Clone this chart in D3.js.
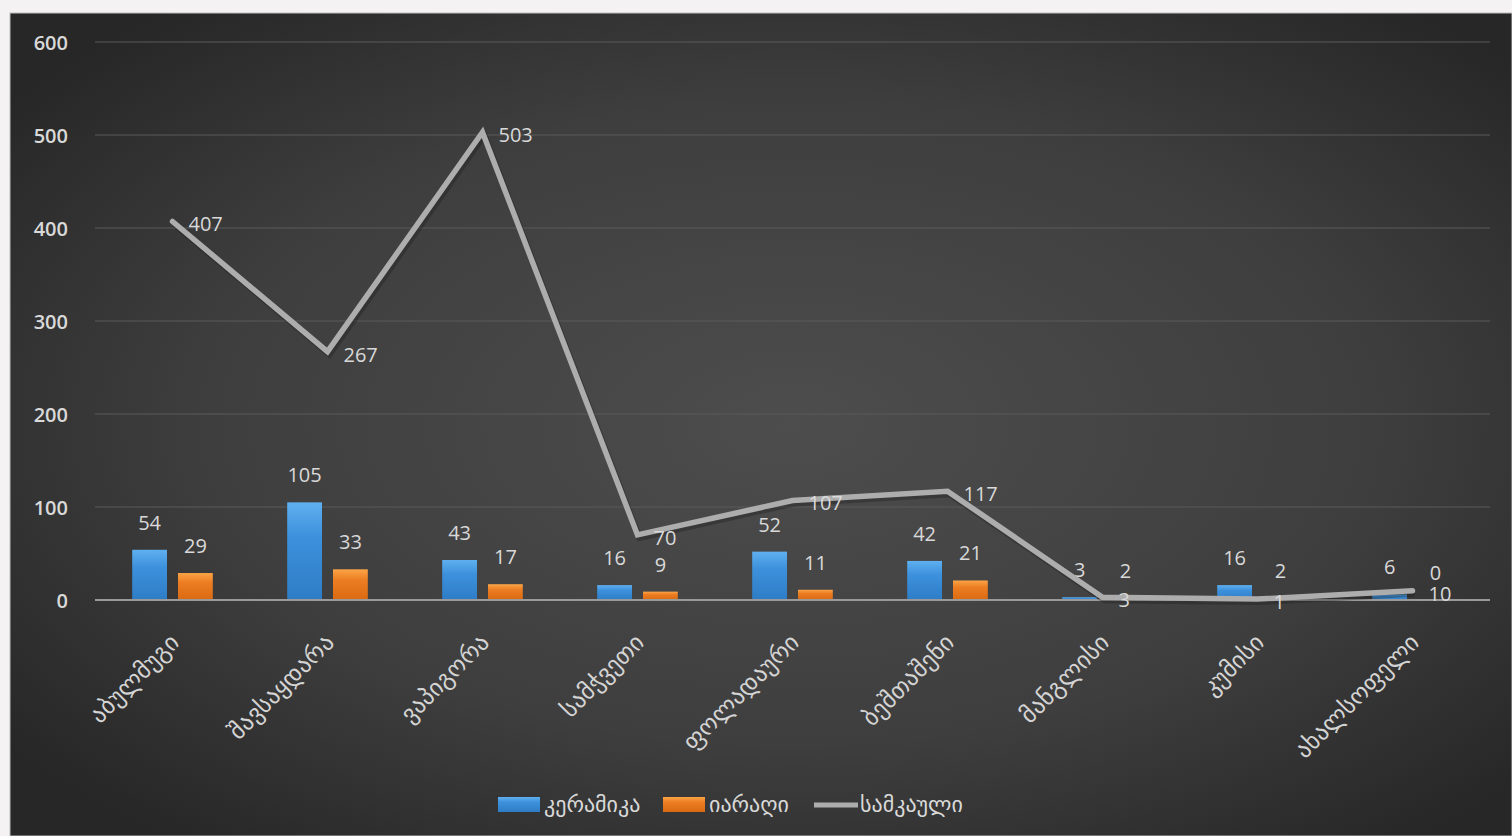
<!DOCTYPE html>
<html>
<head>
<meta charset="utf-8">
<script src="https://cdn.jsdelivr.net/npm/d3@7"></script>
<style>
  html, body { margin: 0; padding: 0; background: #ffffff; }
  svg { display: block; }
  text { font-family: "Open Sans", "DejaVu Sans", sans-serif; }
</style>
</head>
<body>
<svg id="chart" width="1512" height="836"></svg>
<script>
const categories = ["აბულმუგი", "შავსაყდარა", "ვაპიგორა", "სამჭვეთი", "ფოლადაური", "ბეშთაშენი", "მანგლისი", "კუმისი", "ახალსოფელი"];
const ceramics = [54, 105, 43, 16, 52, 42, 3, 16, 6];      // კერამიკა
const weapons = [29, 33, 17, 9, 11, 21, 2, 2, 0];           // იარაღი
const jewelry = [407, 267, 503, 70, 107, 117, 3, 1, 10];    // სამკაული
const seriesNames = ["კერამიკა", "იარაღი", "სამკაული"];
const yTicks = [0, 100, 200, 300, 400, 500, 600];

const svg = d3.select("#chart");
const W = 1512, H = 836;

const defs = svg.append("defs");
const rg = defs.append("radialGradient").attr("id", "bg")
  .attr("cx", "52%").attr("cy", "50%").attr("r", "65%");
rg.append("stop").attr("offset", "0%").attr("stop-color", "#4d4d4d");
rg.append("stop").attr("offset", "60%").attr("stop-color", "#3e3e3e");
rg.append("stop").attr("offset", "100%").attr("stop-color", "#272727");

const gBlue = defs.append("linearGradient").attr("id", "gBlue").attr("x1", 0).attr("y1", 0).attr("x2", 0).attr("y2", 1);
gBlue.append("stop").attr("offset", "0%").attr("stop-color", "#5fb0f0");
gBlue.append("stop").attr("offset", "35%").attr("stop-color", "#3d91dc");
gBlue.append("stop").attr("offset", "100%").attr("stop-color", "#2e7cc6");
const gOr = defs.append("linearGradient").attr("id", "gOr").attr("x1", 0).attr("y1", 0).attr("x2", 0).attr("y2", 1);
gOr.append("stop").attr("offset", "0%").attr("stop-color", "#fba446");
gOr.append("stop").attr("offset", "35%").attr("stop-color", "#ec7d22");
gOr.append("stop").attr("offset", "100%").attr("stop-color", "#d96a12");

// background
svg.append("rect").attr("x", 0).attr("y", 0).attr("width", W).attr("height", H).attr("fill", "#f4f2f2");
svg.append("rect").attr("x", 10).attr("y", 13).attr("width", W - 10).attr("height", H - 13)
  .attr("fill", "url(#bg)").attr("stroke", "#bdbdbd").attr("stroke-width", 1);

const plotL = 95, plotR = 1490, plotT = 42, plotB = 600;

const x0 = d3.scaleBand().domain(categories).range([plotL, plotR]).paddingInner(0.48).paddingOuter(0.24);
const x1 = d3.scaleBand().domain(["c", "w"]).range([0, x0.bandwidth()]).paddingInner(0.24);
const y = d3.scaleLinear().domain([0, 600]).range([plotB, plotT]);

// gridlines
svg.append("g").selectAll("line").data(yTicks.filter(d => d > 0)).join("line")
  .attr("x1", plotL).attr("x2", plotR)
  .attr("y1", d => y(d)).attr("y2", d => y(d))
  .attr("stroke", "#5a5a5a").attr("stroke-width", 1.2);

// y axis labels
const yAxis = d3.axisLeft(y).tickValues(yTicks).tickSize(0).tickPadding(0);
const ga = svg.append("g").attr("transform", "translate(68,0)").call(yAxis);
ga.select(".domain").remove();
ga.selectAll("text").attr("fill", "#d9d9d9").attr("font-size", 20).attr("font-weight", 600)
  .attr("dy", "0.35em");

// bars
const labelColor = "#d9d9d9";
const gBars = svg.append("g");
categories.forEach((c, i) => {
  const items = [
    { key: "c", v: ceramics[i], fill: "url(#gBlue)" },
    { key: "w", v: weapons[i], fill: "url(#gOr)" }
  ];
  items.forEach(it => {
    const bx = x0(c) + x1(it.key);
    gBars.append("rect")
      .attr("x", bx).attr("width", x1.bandwidth())
      .attr("y", y(it.v)).attr("height", Math.max(0, y(0) - y(it.v)))
      .attr("fill", it.fill);
    gBars.append("text")
      .attr("x", bx + x1.bandwidth() / 2)
      .attr("y", y(it.v) - 20)
      .attr("text-anchor", "middle")
      .attr("fill", labelColor).attr("font-size", 20)
      .text(it.v);
  });
});

// zero axis line
svg.append("line").attr("x1", plotL).attr("x2", plotR).attr("y1", y(0)).attr("y2", y(0))
  .attr("stroke", "#9a9a9a").attr("stroke-width", 2);

// line series
const cx = c => x0(c) + x0.bandwidth() / 2;
const line = d3.line().x((d, i) => cx(categories[i])).y(d => y(d));
svg.append("path").datum(jewelry)
  .attr("d", line)
  .attr("fill", "none")
  .attr("stroke", "#1e1e1e").attr("stroke-opacity", 0.35)
  .attr("stroke-width", 6)
  .attr("transform", "translate(2,3)");
svg.append("path").datum(jewelry)
  .attr("d", line)
  .attr("fill", "none").attr("stroke", "#adadad").attr("stroke-width", 5.5)
  .attr("stroke-linejoin", "miter").attr("stroke-linecap", "round");

svg.append("g").selectAll("text").data(jewelry).join("text")
  .attr("x", (d, i) => cx(categories[i]) + 16)
  .attr("y", d => y(d) + 10)
  .attr("fill", labelColor).attr("font-size", 20)
  .text(d => d);

// category labels
svg.append("g").selectAll("text").data(categories).join("text")
  .attr("transform", c => `translate(${cx(c) + 8},${plotB + 44}) rotate(-45)`)
  .attr("text-anchor", "end")
  .attr("fill", "#d4d4d4").attr("font-size", 24)
  .text(c => c);

// legend
const lg = svg.append("g");
const legendItems = [
  { name: seriesNames[0], type: "rect", fill: "url(#gBlue)", x: 498 },
  { name: seriesNames[1], type: "rect", fill: "url(#gOr)", x: 663 },
  { name: seriesNames[2], type: "line", fill: "#adadad", x: 814 }
];
legendItems.forEach(it => {
  if (it.type === "rect") {
    lg.append("rect").attr("x", it.x).attr("y", 797).attr("width", 42).attr("height", 15).attr("fill", it.fill);
  } else {
    lg.append("line").attr("x1", it.x).attr("x2", it.x + 44).attr("y1", 805).attr("y2", 805)
      .attr("stroke", it.fill).attr("stroke-width", 5);
  }
  lg.append("text").attr("x", it.x + 46).attr("y", 812)
    .attr("fill", "#d9d9d9").attr("font-size", 22).text(it.name);
});
</script>
</body>
</html>
